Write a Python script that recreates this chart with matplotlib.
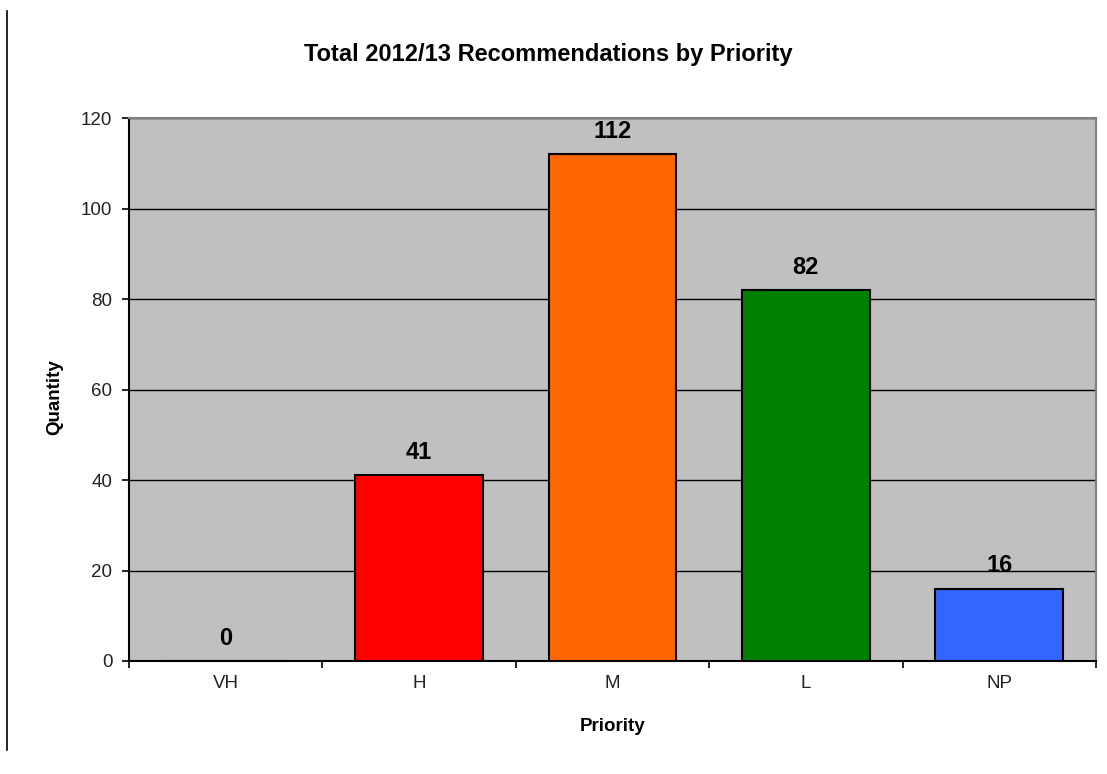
import numpy as np
import matplotlib.pyplot as plt
from matplotlib.lines import Line2D

plt.rcParams['font.family'] = ['Liberation Sans', 'DejaVu Sans']

categories = ['VH', 'H', 'M', 'L', 'NP']
quantities = [0, 41, 112, 82, 16]
bar_colors = ['#C0C0C0', '#FF0000', '#FF6600', '#008000', '#3366FF']

fig = plt.figure(figsize=(11.07, 7.74), dpi=100)
ax = fig.add_axes([0.1165, 0.146, 0.8735, 0.7015])

x = np.arange(len(categories))
bars = ax.bar(x, quantities, width=0.66, color=bar_colors, edgecolor='black', linewidth=1.5, zorder=3)

for xi, q in zip(x, quantities):
    ax.annotate(str(q), (xi, q), xytext=(0, 8), textcoords='offset points',
                ha='center', va='bottom', fontsize=17, fontweight='bold')

ax.set_facecolor('#C0C0C0')
ax.set_xlim(-0.5, len(categories) - 0.5)
ax.set_ylim(0, 120)
ax.set_yticks(np.arange(0, 121, 20))
ax.yaxis.grid(True, color='black', linewidth=1, zorder=1)
ax.set_axisbelow(True)

# category labels centred, tick marks between categories
ax.set_xticks(x)
ax.set_xticklabels(categories, fontsize=13.5, color='#222222')
ax.tick_params(axis='x', length=0, pad=10)
ax.set_xticks(np.arange(-0.5, len(categories)), minor=True)
ax.tick_params(axis='x', which='minor', length=5, width=1.2, direction='out')
ax.tick_params(axis='y', length=5, width=1.2, labelsize=13.5, labelcolor='#222222', pad=7)

for side in ['top', 'right']:
    ax.spines[side].set_color('#808080')
    ax.spines[side].set_linewidth(1.5)
for side in ['left', 'bottom']:
    ax.spines[side].set_color('black')
    ax.spines[side].set_linewidth(1.5)

ax.set_xlabel('Priority', fontsize=13.5, fontweight='bold', va='center')
ax.xaxis.set_label_coords(0.5, -0.1215)
ax.set_ylabel('Quantity', fontsize=13.5, fontweight='bold', va='center')
ax.yaxis.set_label_coords(-0.0765, 0.486)
fig.text(0.4955, 1 - 61 / 774, 'Total 2012/13 Recommendations by Priority', ha='center', va='baseline',
         fontsize=17, fontweight='bold')

fig.add_artist(Line2D([7 / 1107, 7 / 1107], [1 - 11 / 774, 1 - 750 / 774], color='black', linewidth=1.2))

plt.savefig('out.png', dpi=100)
